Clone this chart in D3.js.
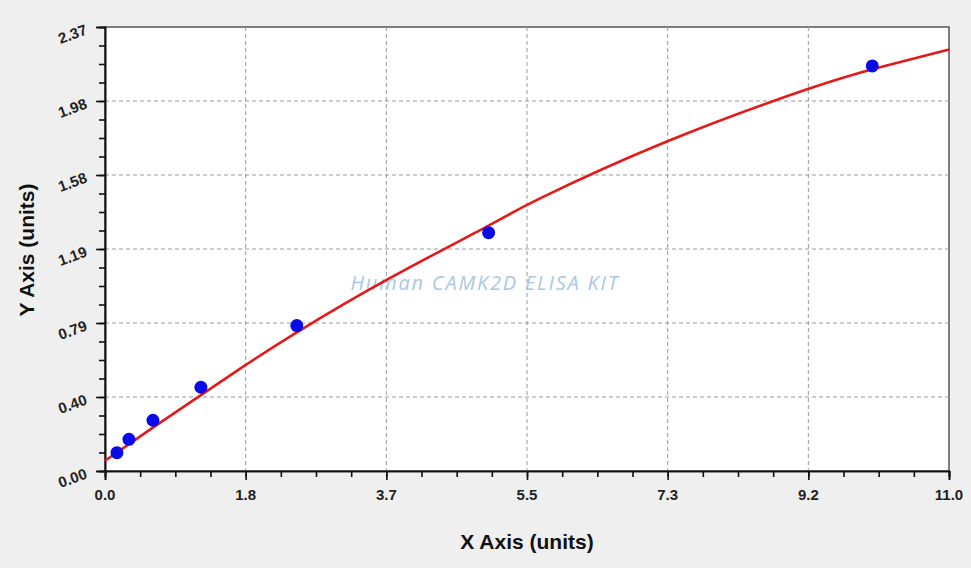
<!DOCTYPE html>
<html lang='en'>
    <head>
		<meta charset="utf-8">
		<title>Human CAMK2D ELISA KIT standard curve</title>
        <script type="text/javascript" src="https://cdn.jsdelivr.net/npm/d3@7/dist/d3.min.js"></script>
        <style>
		body { margin: 0; background: #efefef; }
		.ticklbl { font: bold 15px Arial, "Liberation Sans", sans-serif; fill: #222; }
		.axtitle { font: bold 21px Arial, "Liberation Sans", sans-serif; fill: #111; }
		</style>
	</head>
	<body>
        <script type="text/javascript">
			// standard points (concentration, OD)
			var std_x = [0.156, 0.312, 0.625, 1.25, 2.5, 5, 10];
			var std_y = [0.098, 0.169, 0.271, 0.447, 0.776, 1.272, 2.162];
			// fitted curve
			var fit_x = [0, 0.6, 1.25, 1.83, 2.5, 3.67, 5, 5.67, 7.33, 9.17, 10.1, 11];
			var fit_y = [0.055, 0.225, 0.405, 0.565, 0.74, 1.02, 1.31, 1.455, 1.76, 2.04, 2.155, 2.25];
			// axis ticks
			var x_ticks = [0, 1.8333, 3.6667, 5.5, 7.3333, 9.1667, 11];
			var x_labels = ["0.0", "1.8", "3.7", "5.5", "7.3", "9.2", "11.0"];
			var y_ticks = [0, 0.395, 0.79, 1.185, 1.58, 1.975, 2.37];
			var y_labels = ["0.00", "0.40", "0.79", "1.19", "1.58", "1.98", "2.37"];

            var w = 971, h = 568;
			var p_left = 105, p_right = 949, p_top = 27, p_bottom = 471;
			var svg = d3.select("body").append("svg").attr("width", w).attr("height", h);

			var scale_x = d3.scaleLinear().domain([0, 11]).range([p_left, p_right]);
			var scale_y = d3.scaleLinear().domain([0, 2.37]).range([p_bottom, p_top]);

			// plot area
			svg.append("rect")
				.attr("x", p_left).attr("y", p_top)
				.attr("width", p_right - p_left).attr("height", p_bottom - p_top)
				.attr("fill", "#fff")
				.attr("stroke", "#555").attr("stroke-width", 1.5);

			// dashed grid
			svg.selectAll(".vgrid")
				.data(x_ticks.slice(1, -1))
				.enter().append("line")
				.attr("x1", function(d){ return scale_x(d); })
				.attr("x2", function(d){ return scale_x(d); })
				.attr("y1", p_top).attr("y2", p_bottom)
				.attr("stroke", "#999").attr("stroke-dasharray", "4,3");
			svg.selectAll(".hgrid")
				.data(y_ticks.slice(1, -1))
				.enter().append("line")
				.attr("y1", function(d){ return scale_y(d); })
				.attr("y2", function(d){ return scale_y(d); })
				.attr("x1", p_left).attr("x2", p_right)
				.attr("stroke", "#999").attr("stroke-dasharray", "4,3");

			// watermark
			svg.append("text")
				.attr("x", 485).attr("y", 290)
				.attr("text-anchor", "middle")
				.style("font", "italic 20px 'Open Sans', sans-serif")
				.style("letter-spacing", "1.8px")
				.attr("fill", "#a9c7e6")
				.text("Human CAMK2D ELISA KIT");

			// minor ticks every quarter step
			var x_minor = d3.range(0, 25).map(function(i){ return i * 11 / 24; });
			var y_minor = d3.range(0, 25).map(function(i){ return i * 2.37 / 24; });

			var x_axis = svg.append("g")
				.attr("transform", "translate(0," + p_bottom + ")");
			x_axis.call(d3.axisBottom(scale_x).tickValues(x_minor).tickSize(6).tickFormat(""));
			x_axis.append("g").call(d3.axisBottom(scale_x).tickValues(x_ticks).tickSize(9).tickFormat(""));
			x_axis.selectAll("path, line").attr("stroke", "#111").attr("stroke-width", 1.6);
			x_axis.selectAll(".xl")
				.data(x_ticks)
				.enter().append("text")
				.attr("class", "ticklbl")
				.attr("x", function(d){ return scale_x(d); })
				.attr("y", 29)
				.attr("text-anchor", "middle")
				.text(function(d, i){ return x_labels[i]; });

			var y_axis = svg.append("g")
				.attr("transform", "translate(" + p_left + ",0)");
			y_axis.call(d3.axisLeft(scale_y).tickValues(y_minor).tickSize(6).tickFormat(""));
			y_axis.append("g").call(d3.axisLeft(scale_y).tickValues(y_ticks).tickSize(9).tickFormat(""));
			y_axis.selectAll("path, line").attr("stroke", "#111").attr("stroke-width", 1.6);
			y_axis.selectAll(".yl")
				.data(y_ticks)
				.enter().append("text")
				.attr("class", "ticklbl")
				.attr("text-anchor", "end")
				.attr("transform", function(d){ return "translate(-17," + (scale_y(d) + 7) + ") rotate(-20)"; })
				.text(function(d, i){ return y_labels[i]; });

			// fitted curve
			var fit = fit_x.map(function(d, i){ return [d, fit_y[i]]; });
			svg.append("path")
				.datum(fit)
				.attr("fill", "none")
				.attr("stroke", "#e31a1a")
				.attr("stroke-width", 2.6)
				.attr("d", d3.line()
					.x(function(d){ return scale_x(d[0]); })
					.y(function(d){ return scale_y(d[1]); })
					.curve(d3.curveNatural));

			// standard points
			svg.selectAll(".dot")
				.data(std_x)
				.enter().append("circle")
				.attr("cx", function(d){ return scale_x(d); })
				.attr("cy", function(d, i){ return scale_y(std_y[i]); })
				.attr("r", 6.5)
				.attr("fill", "#0a0ae6");

			// axis titles
			svg.append("text")
				.attr("class", "axtitle")
				.attr("x", 527).attr("y", 549)
				.attr("text-anchor", "middle")
				.text("X Axis (units)");
			svg.append("text")
				.attr("class", "axtitle")
				.attr("transform", "translate(34,250) rotate(-90)")
				.attr("text-anchor", "middle")
				.text("Y Axis (units)");
</script>
	</body>
</html>
